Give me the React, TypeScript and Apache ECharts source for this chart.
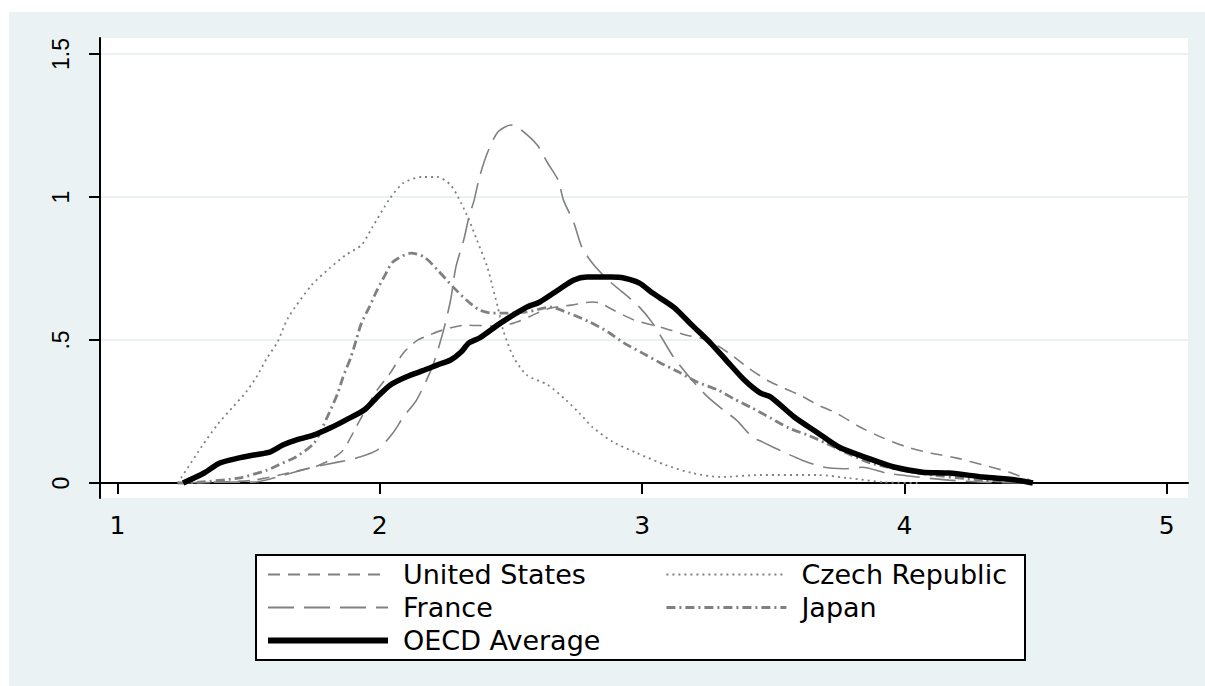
import React, { useEffect, useRef } from "react";
import * as echarts from "echarts";

// ---- data (kernel density estimates) ----
const xTicks = [1, 2, 3, 4, 5];
const yTicks = [0, 0.5, 1, 1.5];

const usX = [1.23, 1.39, 1.52, 1.65, 1.75, 1.81, 1.86, 1.91, 1.96, 1.99, 2.04, 2.09, 2.14, 2.18, 2.24, 2.33, 2.43, 2.51, 2.6, 2.65, 2.73, 2.81, 2.84, 2.89, 2.97, 3.07, 3.17, 3.25, 3.33, 3.41, 3.49, 3.6, 3.67, 3.74, 3.83, 3.92, 4.01, 4.1, 4.2, 4.3, 4.4, 4.48];
const usY = [0, 0.003, 0.01, 0.035, 0.056, 0.08, 0.115, 0.196, 0.28, 0.325, 0.385, 0.455, 0.497, 0.514, 0.535, 0.552, 0.549, 0.559, 0.594, 0.612, 0.622, 0.633, 0.629, 0.605, 0.57, 0.545, 0.517, 0.5, 0.455, 0.399, 0.353, 0.308, 0.273, 0.245, 0.196, 0.157, 0.126, 0.105, 0.087, 0.063, 0.038, 0.01];

const frX = [1.23, 1.36, 1.52, 1.62, 1.73, 1.84, 1.91, 1.99, 2.05, 2.09, 2.14, 2.2, 2.24, 2.27, 2.29, 2.32, 2.34, 2.36, 2.38, 2.41, 2.45, 2.5, 2.53, 2.6, 2.64, 2.68, 2.7, 2.74, 2.77, 2.81, 2.87, 2.93, 2.99, 3.04, 3.08, 3.12, 3.19, 3.25, 3.31, 3.36, 3.42, 3.46, 3.54, 3.61, 3.69, 3.77, 3.84, 3.93, 4.05, 4.17, 4.3, 4.48];
const frY = [0, 0.003, 0.003, 0.024, 0.052, 0.073, 0.087, 0.115, 0.175, 0.231, 0.29, 0.406, 0.524, 0.64, 0.755, 0.85, 0.93, 0.99, 1.07, 1.154, 1.227, 1.252, 1.241, 1.182, 1.119, 1.059, 0.99, 0.909, 0.825, 0.769, 0.71, 0.664, 0.615, 0.559, 0.5, 0.44, 0.36, 0.301, 0.255, 0.22, 0.161, 0.143, 0.108, 0.08, 0.056, 0.05, 0.055, 0.035, 0.021, 0.01, 0.003, 0];

const czX = [1.23, 1.32, 1.38, 1.44, 1.49, 1.53, 1.57, 1.61, 1.65, 1.74, 1.81, 1.87, 1.93, 1.97, 2.04, 2.09, 2.16, 2.22, 2.27, 2.31, 2.34, 2.37, 2.41, 2.43, 2.45, 2.47, 2.51, 2.56, 2.64, 2.71, 2.76, 2.81, 2.89, 2.98, 3.09, 3.19, 3.3, 3.45, 3.67, 3.79, 3.92, 4.05];
const czY = [0, 0.126, 0.203, 0.266, 0.318, 0.371, 0.437, 0.493, 0.577, 0.692, 0.752, 0.797, 0.832, 0.892, 0.997, 1.049, 1.07, 1.07, 1.042, 0.979, 0.92, 0.85, 0.755, 0.685, 0.615, 0.535, 0.44, 0.378, 0.343, 0.29, 0.245, 0.196, 0.143, 0.105, 0.063, 0.035, 0.021, 0.028, 0.028, 0.017, 0.003, 0];

const jpX = [1.23, 1.31, 1.46, 1.57, 1.63, 1.68, 1.75, 1.8, 1.84, 1.86, 1.89, 1.91, 1.93, 1.96, 1.99, 2.02, 2.05, 2.12, 2.17, 2.22, 2.28, 2.33, 2.38, 2.43, 2.48, 2.56, 2.65, 2.72, 2.8, 2.87, 2.93, 3.0, 3.07, 3.14, 3.21, 3.29, 3.35, 3.42, 3.49, 3.56, 3.63, 3.7, 3.78, 3.87, 4.05, 4.3, 4.49];
const jpY = [0, 0.003, 0.017, 0.045, 0.07, 0.091, 0.14, 0.231, 0.315, 0.371, 0.44, 0.5, 0.559, 0.615, 0.675, 0.727, 0.773, 0.804, 0.79, 0.745, 0.685, 0.64, 0.605, 0.594, 0.594, 0.598, 0.615, 0.594, 0.563, 0.528, 0.49, 0.455, 0.42, 0.388, 0.353, 0.325, 0.294, 0.262, 0.227, 0.192, 0.168, 0.14, 0.105, 0.07, 0.035, 0.01, 0.003];

const oecdX = [1.25, 1.33, 1.39, 1.46, 1.52, 1.58, 1.63, 1.68, 1.75, 1.81, 1.87, 1.94, 1.99, 2.04, 2.1, 2.17, 2.22, 2.27, 2.31, 2.34, 2.38, 2.46, 2.56, 2.61, 2.68, 2.74, 2.79, 2.88, 2.93, 2.99, 3.04, 3.12, 3.19, 3.26, 3.32, 3.39, 3.45, 3.49, 3.58, 3.67, 3.75, 3.86, 3.96, 4.07, 4.17, 4.3, 4.43, 4.49];
const oecdY = [0, 0.035, 0.07, 0.087, 0.098, 0.108, 0.133, 0.15, 0.168, 0.192, 0.22, 0.255, 0.301, 0.343, 0.371, 0.395, 0.413, 0.43, 0.458, 0.49, 0.507, 0.559, 0.615, 0.633, 0.675, 0.71, 0.72, 0.72, 0.717, 0.699, 0.664, 0.615, 0.552, 0.49, 0.43, 0.36, 0.315, 0.301, 0.231, 0.175, 0.126, 0.087, 0.056, 0.038, 0.035, 0.021, 0.01, 0];

const zip = (xs: number[], ys: number[]) => xs.map((x, i) => [x, ys[i]]);

const GRAY = "#808080";
const FONT = "DejaVu Sans";

export default function App() {
  const ref = useRef<HTMLDivElement>(null);
  useEffect(() => {
    if (!ref.current) return;
    const chart = echarts.init(ref.current, null, { renderer: "svg" });
    const legendCommon = {
      orient: "vertical" as const,
      top: 549,
      itemWidth: 120,
      itemHeight: 26,
      itemGap: 6,
      padding: 0,
      selectedMode: false,
      itemStyle: { opacity: 0, borderWidth: 0 },
      textStyle: {
        fontFamily: FONT,
        fontSize: 27,
        color: "#000",
        padding: [0, 0, 0, 10],
      },
    };
    chart.setOption({
      animation: false,
      backgroundColor: "#eaf2f3",
      grid: {
        left: 91,
        top: 26,
        right: 17,
        bottom: 188,
        show: true,
        backgroundColor: "#ffffff",
        borderWidth: 0,
      },
      xAxis: {
        type: "value",
        min: 0.9333,
        max: 5.0812,
        axisLine: { show: true, lineStyle: { color: "#000", width: 2 } },
        axisTick: { show: true, customValues: xTicks, length: 11, lineStyle: { color: "#000", width: 2 } },
        axisLabel: {
          customValues: xTicks,
          fontFamily: FONT,
          fontSize: 25,
          color: "#000",
          margin: 15,
        },
        splitLine: { show: false },
      },
      yAxis: {
        type: "value",
        min: -0.0524,
        max: 1.556,
        axisLine: { show: true, lineStyle: { color: "#000", width: 2 } },
        axisTick: { show: true, customValues: yTicks, length: 11, lineStyle: { color: "#000", width: 2 } },
        axisLabel: {
          customValues: yTicks,
          rotate: 90,
          fontFamily: "Liberation Sans",
          fontSize: 23,
          color: "#000",
          margin: 28,
          formatter: (v: number) => (v === 0 ? "0" : String(v).replace(/^0\./, ".")),
        },
        splitLine: { show: true, lineStyle: { color: "#e3ecef", width: 1.5 } },
      },
      legend: [
        {
          ...legendCommon,
          left: 256,
          data: [
            { name: "United States", lineStyle: { width: 1.8 } },
            { name: "France", lineStyle: { width: 1.8 } },
            { name: "OECD Average", lineStyle: { width: 6 } },
          ],
        },
        {
          ...legendCommon,
          left: 656,
          data: [
            { name: "Czech Republic", lineStyle: { width: 1.8 } },
            { name: "Japan", lineStyle: { width: 2.8 } },
          ],
        },
      ],
      graphic: [
        {
          type: "rect",
          z: 1,
          shape: { x: 247, y: 543, width: 769, height: 105 },
          style: { fill: "#fff", stroke: "#000", lineWidth: 2 },
        },
      ],
      series: [
        {
          name: "United States",
          type: "line",
          data: zip(usX, usY),
          symbol: "none",
          smooth: 0.25,
          lineStyle: { color: GRAY, width: 1.6, type: [12, 8] },
          itemStyle: { color: GRAY },
        },
        {
          name: "Czech Republic",
          type: "line",
          data: zip(czX, czY),
          symbol: "none",
          smooth: 0.25,
          lineStyle: { color: GRAY, width: 1.8, type: [2, 4] },
          itemStyle: { color: GRAY },
        },
        {
          name: "France",
          type: "line",
          data: zip(frX, frY),
          symbol: "none",
          smooth: 0.25,
          lineStyle: { color: GRAY, width: 1.6, type: [26, 10] },
          itemStyle: { color: GRAY },
        },
        {
          name: "Japan",
          type: "line",
          data: zip(jpX, jpY),
          symbol: "none",
          smooth: 0.25,
          lineStyle: { color: GRAY, width: 2.8, type: [9, 4, 2, 4] },
          itemStyle: { color: GRAY },
        },
        {
          name: "OECD Average",
          type: "line",
          data: zip(oecdX, oecdY),
          symbol: "none",
          smooth: 0.25,
          z: 5,
          lineStyle: { color: "#000", width: 5.5 },
          itemStyle: { color: "#000" },
        },
      ],
    });
    return () => chart.dispose();
  }, []);
  return (
    <div
      ref={ref}
      style={{ position: "fixed", left: 9, top: 12, width: 1196, height: 674 }}
    />
  );
}
